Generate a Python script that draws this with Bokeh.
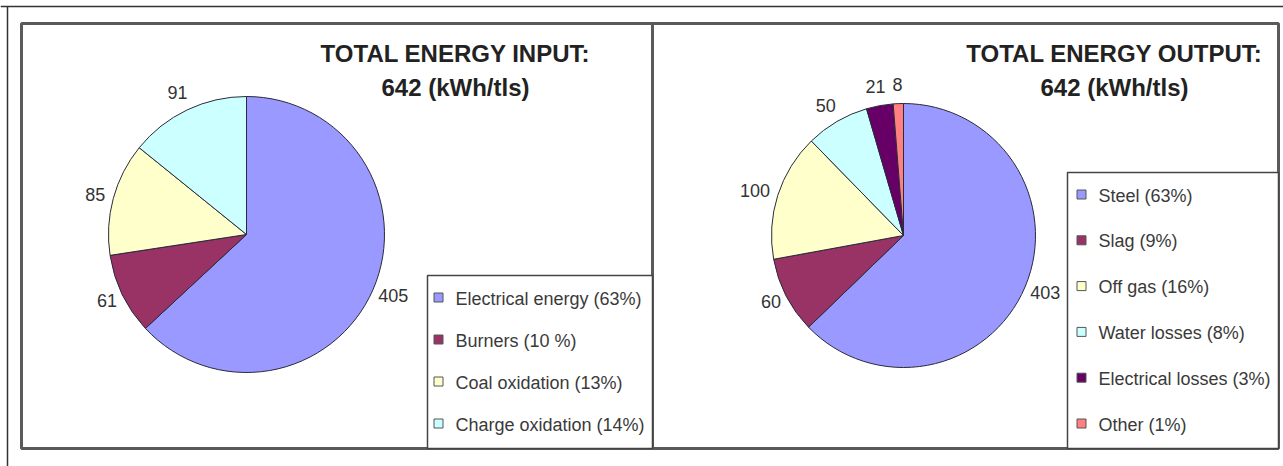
import math
from bokeh.plotting import figure
from bokeh.models import Range1d
from bokeh.embed import file_html
from bokeh.resources import INLINE
from bokeh.core.properties import value

# ---------------- data ----------------
input_title = "TOTAL ENERGY INPUT:"
output_title = "TOTAL ENERGY OUTPUT:"
total_text = "642 (kWh/tls)"

input_labels = ["Electrical energy (63%)", "Burners (10 %)", "Coal oxidation (13%)", "Charge oxidation (14%)"]
input_values = [405, 61, 85, 91]
input_colors = ["#9999FF", "#993366", "#FFFFCC", "#CCFFFF"]

output_labels = ["Steel  (63%)", "Slag (9%)", "Off gas (16%)", "Water losses (8%)",
                 "Electrical losses (3%)", "Other (1%)"]
output_values = [403, 60, 100, 50, 21, 8]
output_colors = ["#9999FF", "#993366", "#FFFFCC", "#CCFFFF", "#660066", "#FF8080"]

# ---------------- figure ----------------
W, H = 1283, 466
p = figure(width=W, height=H, x_range=Range1d(0, W), y_range=Range1d(0, H),
           output_backend="svg", toolbar_location=None,
           x_axis_type=None, y_axis_type=None, min_border=0)
p.outline_line_color = None
p.background_fill_color = "white"
p.border_fill_color = "white"

FONT = value("Liberation Sans")


def Y(y):
    return H - y


# outer frame lines
p.segment(x0=[0, 7], y0=[Y(6), Y(6)], x1=[W, 7], y1=[Y(6), Y(H)],
          line_color="#333333", line_width=1.5)

# panels
p.quad(left=[21, 652], right=[652, 1278], top=[Y(23), Y(23)], bottom=[Y(448), Y(448)],
       fill_color="white", line_color="#5a5a5a", line_width=3)


def draw_pie(values, colors, cx, cy, r):
    total = float(sum(values))
    starts, ends, mids = [], [], []
    cum = 0.0
    for v in values:
        a0 = cum / total
        cum += v
        a1 = cum / total
        starts.append(math.pi / 2 - 2 * math.pi * a0)
        ends.append(math.pi / 2 - 2 * math.pi * a1)
        mids.append(2 * math.pi * (a0 + a1) / 2)  # clockwise from top
    n = len(values)
    p.wedge(x=[cx] * n, y=[Y(cy)] * n, radius=r, radius_units="screen",
            start_angle=starts, end_angle=ends, direction="clock",
            fill_color=colors, line_color="#2a2a3a", line_width=1)
    # data labels outside the pie
    fs = 18
    lx, ly, lt = [], [], []
    for v, m in zip(values, mids):
        sx, cy_ = math.sin(m), math.cos(m)
        pad = 7 + 6 * max(0.0, cy_)
        s = str(v)
        hw = len(s) * 0.556 * fs / 2
        hh = 0.716 * fs / 2
        x = cx + sx * (r + pad) + sx * hw
        y_img = cy - cy_ * (r + pad) - cy_ * hh
        lx.append(x)
        ly.append(Y(y_img))
        lt.append(s)
    p.text(x=lx, y=ly, text=lt, text_font=FONT, text_font_size=f"{fs}px",
           text_color="#333333", text_align="center", text_baseline="middle")


def draw_legend(labels, colors, left, top, right, bottom, mx, tx):
    p.quad(left=[left], right=[right], top=[Y(top)], bottom=[Y(bottom)],
           fill_color="white", line_color="#444444", line_width=1.5)
    n = len(labels)
    step = (bottom - top - 47) / (n - 1)
    ys = [Y(top + 23 + i * step) for i in range(n)]
    p.rect(x=[mx] * n, y=[y + 1 for y in ys], width=9, height=9,
           width_units="screen", height_units="screen",
           fill_color=colors, line_color="#555555", line_width=1)
    p.text(x=[tx] * n, y=ys, text=labels, text_font=FONT, text_font_size="18px",
           text_color="#3a3a3a", text_align="left", text_baseline="middle")


def draw_title(title, cx):
    p.text(x=[cx, cx], y=[Y(53), Y(87)], text=[title, total_text], text_font=FONT,
           text_font_size="24px", text_font_style="bold", text_color="#222222",
           text_align="center", text_baseline="alphabetic")


draw_pie(input_values, input_colors, 246, 234, 138)
draw_pie(output_values, output_colors, 903, 235, 132)
draw_legend(input_labels, input_colors, 427, 275, 652, 448, 438, 455)
draw_legend(output_labels, output_colors, 1067, 172, 1278, 448, 1081, 1098)
draw_title(input_title, 455)
draw_title(output_title, 1114)

open("out.html", "w").write(file_html(p, INLINE))
